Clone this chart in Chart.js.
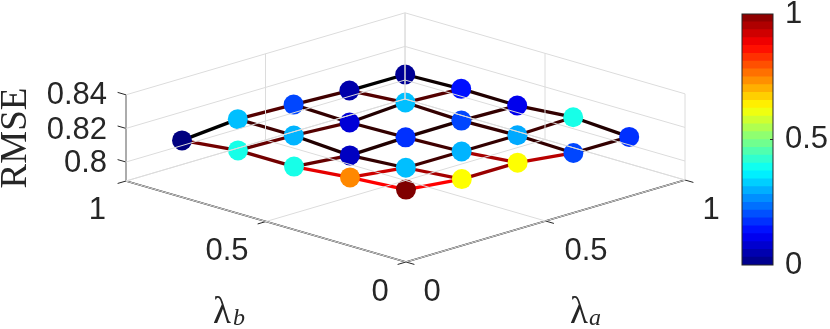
<!DOCTYPE html>
<html>
<head>
<meta charset="utf-8">
<script src="https://cdn.jsdelivr.net/npm/chart.js@4"></script>
<style>
  html, body { margin: 0; padding: 0; background: #fff; }
  #wrap { position: relative; width: 830px; height: 329px; overflow: hidden; }
</style>
</head>
<body>
<div id="wrap">
  <div style="position:absolute;left:0;top:0;width:830px;height:329px"><canvas id="mainChart"></canvas></div>
  <div style="position:absolute;left:725px;top:0;width:105px;height:280px"><canvas id="barChart"></canvas></div>
</div>
<script>
// data
const lambdaA = [0, 0.2, 0.4, 0.6, 0.8];
const lambdaB = [0, 0.2, 0.4, 0.6, 0.8];
// rows follow lambdaA, columns follow lambdaB
const rmseA0 = [0.8318, 0.8294, 0.8262, 0.8262, 0.8225];
const rmseA2 = [0.8283, 0.8254, 0.8231, 0.8253, 0.8254];
const rmseA4 = [0.8283, 0.8253, 0.8241, 0.8233, 0.8243];
const rmseA6 = [0.8243, 0.8252, 0.8243, 0.8254, 0.8229];
const rmseA8 = [0.8241, 0.8262, 0.8235, 0.8238, 0.8227];
const rmse = [rmseA0, rmseA2, rmseA4, rmseA6, rmseA8];

// red level of the mesh lines, one row per constant lambdaB
const edgeAlongA0 = [1.0, 0.6, 0.72, 0.2];
const edgeAlongA2 = [0.8, 0.25, 0.2, 0.25];
const edgeAlongA4 = [0.4, 0.13, 0.13, 0.2];
const edgeAlongA6 = [0.4, 0.33, 0.13, 0.33];
const edgeAlongA8 = [0.0, 0.33, 0.25, 0.0];
const edgesAlongA = [edgeAlongA0, edgeAlongA2, edgeAlongA4, edgeAlongA6, edgeAlongA8];
// one row per constant lambdaA
const edgeAlongB0 = [1.0, 0.9, 0.45, 0.45];
const edgeAlongB2 = [0.65, 0.2, 0.13, 0.25];
const edgeAlongB4 = [0.65, 0.25, 0.2, 0.2];
const edgeAlongB6 = [0.2, 0.2, 0.2, 0.33];
const edgeAlongB8 = [0.13, 0.2, 0.13, 0.05];
const edgesAlongB = [edgeAlongB0, edgeAlongB2, edgeAlongB4, edgeAlongB6, edgeAlongB8];

const aTicks = [0, 0.5, 1];
const bTicks = [0, 0.5, 1];
const zTicks = [0.8, 0.82, 0.84];
const barTicks = [0, 0.5, 1];
const barLevels = 32;

const zFloor = 0.7887;
const zTop = 0.84;

// 3D view -> picture coordinates
function project(a, b, z) {
  return {
    x: 406 + 279 * a - 280 * b,
    y: 262 - 82 * a - 81 * b - (z - zFloor) * 1680,
  };
}

function jet(t) {
  const c = (v) => Math.round(255 * Math.max(0, Math.min(1, v)));
  const r = 1.5 - Math.abs(4 * t - 3);
  const g = 1.5 - Math.abs(4 * t - 2);
  const b = 1.5 - Math.abs(4 * t - 1);
  return "rgb(" + c(r) + "," + c(g) + "," + c(b) + ")";
}

const allZ = rmse.flat();
const zMin = Math.min(...allZ);
const zMax = Math.max(...allZ);

const datasets = [];

function addLine(points, color, width) {
  datasets.push({
    type: "line",
    data: points,
    borderColor: color,
    borderWidth: width,
    pointRadius: 0,
    fill: false,
    tension: 0,
    borderCapStyle: "butt",
  });
}

const gridColor = "#dcdcdc";
const axisColor = "#262626";

// walls and floor
zTicks.concat([zFloor]).forEach((z) => {
  addLine([project(0, 1, z), project(1, 1, z), project(1, 0, z)], gridColor, 1);
});
aTicks.forEach((a) => {
  addLine([project(a, 0, zFloor), project(a, 1, zFloor), project(a, 1, zTop)], gridColor, 1);
});
bTicks.forEach((b) => {
  addLine([project(0, b, zFloor), project(1, b, zFloor), project(1, b, zTop)], gridColor, 1);
});

// axes and tick marks
addLine([project(0, 1, zTop), project(0, 1, zFloor)], axisColor, 1.2);
addLine([project(0, 1, zFloor), project(0, 0, zFloor)], axisColor, 1.4);
addLine([project(0, 0, zFloor), project(1, 0, zFloor)], axisColor, 1.4);
aTicks.forEach((a) => {
  addLine([project(a, 0, zFloor), project(a, -0.03, zFloor)], axisColor, 1);
});
bTicks.forEach((b) => {
  addLine([project(0, b, zFloor), project(-0.03, b, zFloor)], axisColor, 1);
});
zTicks.forEach((z) => {
  addLine([project(0, 1, z), project(0, 1.03, z)], axisColor, 1);
});

// round markers, coloured by value
const pointData = [];
const pointColors = [];
lambdaA.forEach((a, i) => {
  lambdaB.forEach((b, j) => {
    pointData.push(project(a, b, rmse[i][j]));
    pointColors.push(jet((rmse[i][j] - zMin) / (zMax - zMin)));
  });
});
datasets.push({
  type: "scatter",
  data: pointData,
  pointRadius: 10,
  pointBackgroundColor: pointColors,
  pointBorderWidth: 0,
  showLine: false,
});

// mesh lines on top of the markers
function edgeColor(level) {
  return "rgb(" + Math.round(255 * level) + ",0,0)";
}
lambdaB.forEach((b, j) => {
  edgesAlongA[j].forEach((level, i) => {
    addLine([project(lambdaA[i], b, rmse[i][j]), project(lambdaA[i + 1], b, rmse[i + 1][j])], edgeColor(level), 3.3);
  });
});
lambdaA.forEach((a, i) => {
  edgesAlongB[i].forEach((level, j) => {
    addLine([project(a, lambdaB[j], rmse[i][j]), project(a, lambdaB[j + 1], rmse[i][j + 1])], edgeColor(level), 3.3);
  });
});

// tick labels and axis titles are placed in picture coordinates
const textItems = [
  { text: "0.84", x: 107, y: 104, align: "right" },
  { text: "0.82", x: 107, y: 139, align: "right" },
  { text: "0.8", x: 107, y: 172, align: "right" },
  { text: "1", x: 106, y: 219, align: "right" },
  { text: "0.5", x: 227, y: 260, align: "center" },
  { text: "0", x: 380, y: 301, align: "center" },
  { text: "0", x: 432, y: 301, align: "center" },
  { text: "0.5", x: 586, y: 260, align: "center" },
  { text: "1", x: 711, y: 219, align: "center" },
];

const textPlugin = {
  id: "axisText",
  afterDatasetsDraw(chart) {
    const ctx = chart.ctx;
    ctx.save();
    ctx.fillStyle = "#262626";
    ctx.font = "31px 'Liberation Sans'";
    ctx.textBaseline = "alphabetic";
    textItems.forEach((t) => {
      ctx.textAlign = t.align;
      ctx.fillText(t.text, t.x, t.y);
    });
    ctx.font = "37px 'Liberation Serif'";
    ctx.textAlign = "left";
    ctx.fillText("λ", 213, 323);
    ctx.fillText("λ", 570, 323);
    ctx.font = "italic 24px 'Liberation Serif'";
    ctx.fillText("b", 233, 325);
    ctx.fillText("a", 589, 325);
    ctx.font = "37px 'Liberation Serif'";
    ctx.translate(26, 138);
    ctx.rotate(-Math.PI / 2);
    ctx.textAlign = "center";
    ctx.fillText("RMSE", 0, 0);
    ctx.restore();
  },
};

const mainCtx = document.getElementById("mainChart").getContext("2d");
const mainChart = new Chart(mainCtx, {
  type: "scatter",
  data: { datasets: datasets },
  plugins: [textPlugin],
  options: {
    responsive: true,
    maintainAspectRatio: false,
    animation: false,
    layout: { padding: 0, autoPadding: false },
    plugins: {
      legend: { display: false },
      tooltip: { enabled: false },
    },
    scales: {
      x: { type: "linear", min: 0, max: 830, display: false },
      y: { type: "linear", min: 0, max: 329, reverse: true, display: false },
    },
  },
});

// colour bar: overlapping bars from 0, the lowest level is painted last, so no seams show
const barDatasets = [];
for (let i = 0; i < barLevels; i++) {
  barDatasets.push({
    data: [(i + 1) / barLevels],
    backgroundColor: jet((i + 0.5) / barLevels),
    borderWidth: 0,
    barPercentage: 1,
    categoryPercentage: 1,
    grouped: false,
  });
}

const barFrame = {
  id: "barFrame",
  afterDatasetsDraw(chart) {
    const { ctx, chartArea } = chart;
    ctx.save();
    ctx.strokeStyle = "#262626";
    ctx.lineWidth = 1;
    ctx.strokeRect(chartArea.left, chartArea.top, chartArea.right - chartArea.left, chartArea.bottom - chartArea.top);
    const mid = chart.scales.y.getPixelForValue(barTicks[1]);
    ctx.beginPath();
    ctx.moveTo(chartArea.right - 3, mid);
    ctx.lineTo(chartArea.right, mid);
    ctx.stroke();
    ctx.restore();
  },
};

const barCtx = document.getElementById("barChart").getContext("2d");
const barChart = new Chart(barCtx, {
  type: "bar",
  data: { labels: [""], datasets: barDatasets },
  plugins: [barFrame],
  options: {
    responsive: true,
    maintainAspectRatio: false,
    animation: false,
    layout: { padding: { left: 17, right: 0, top: 14, bottom: 15 }, autoPadding: false },
    plugins: {
      legend: { display: false },
      tooltip: { enabled: false },
    },
    scales: {
      x: {
        display: false,
      },
      y: {
        position: "right",
        min: 0,
        max: 1,
        afterBuildTicks: (axis) => {
          axis.ticks = barTicks.map((v) => ({ value: v }));
        },
        afterFit: (axis) => {
          axis.width = 57;
          axis.paddingTop = 0;
          axis.paddingBottom = 0;
        },
        border: { display: false },
        grid: { display: false },
        ticks: {
          color: "#262626",
          padding: 4,
          font: { family: "Liberation Sans", size: 31 },
          callback: (v) => String(v),
        },
      },
    },
  },
});
</script>
</body>
</html>
